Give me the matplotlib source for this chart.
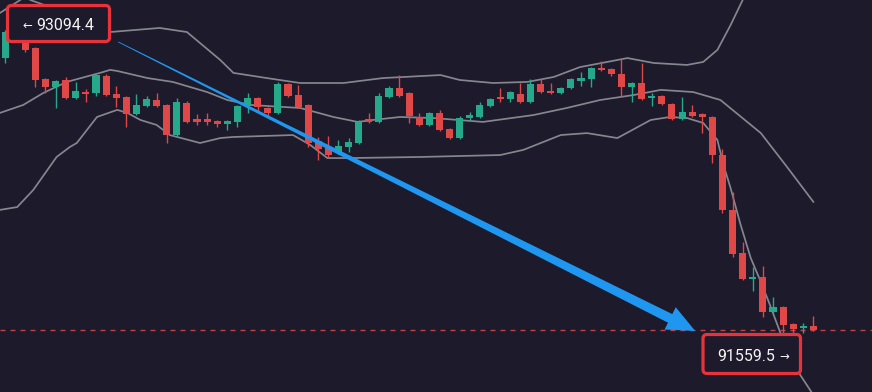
import numpy as np
import matplotlib.pyplot as plt
from matplotlib.patches import FancyBboxPatch, Polygon
from matplotlib.transforms import IdentityTransform

# --- candle data (price units) ---
opens = [92941, 93058, 93062, 92988, 92844, 92806, 92839, 92755, 92783, 92779,
         92858, 92774, 92760, 92681, 92718, 92746, 92723, 92583, 92732, 92658,
         92658, 92648, 92634, 92644, 92718, 92755, 92709, 92686, 92820, 92769,
         92723, 92555, 92527, 92499, 92527, 92546, 92658, 92644, 92760, 92802,
         92779, 92667, 92630, 92686, 92611, 92569, 92662, 92667, 92718, 92760,
         92751, 92774, 92737, 92820, 92788, 92779, 92802, 92834, 92844, 92895,
         92890, 92867, 92806, 92825, 92755, 92765, 92727, 92658, 92690, 92681,
         92667, 92490, 92235, 92035, 91914, 91923, 91760, 91783, 91704, 91686,
         91695]
highs = [93072, 93094.4, 93067, 92992, 92848, 92839, 92853, 92830, 92797, 92867,
         92867, 92811, 92765, 92774, 92765, 92779, 92727, 92755, 92741, 92681,
         92686, 92653, 92653, 92723, 92779, 92760, 92713, 92830, 92825, 92816,
         92727, 92574, 92579, 92560, 92569, 92653, 92686, 92779, 92811, 92862,
         92783, 92686, 92690, 92700, 92616, 92672, 92690, 92737, 92755, 92802,
         92788, 92825, 92844, 92844, 92825, 92806, 92848, 92876, 92899, 92927,
         92895, 92937, 92830, 92918, 92779, 92769, 92732, 92760, 92723, 92686,
         92672, 92518, 92318, 92086, 91969, 91974, 91830, 91788, 91709, 91709,
         91742]
lows = [92918, 93034, 92969, 92806, 92779, 92709, 92751, 92751, 92737, 92765,
        92765, 92713, 92620, 92676, 92713, 92713, 92546, 92579, 92639, 92630,
        92630, 92620, 92606, 92620, 92686, 92695, 92667, 92681, 92760, 92709,
        92527, 92467, 92481, 92495, 92504, 92541, 92639, 92639, 92755, 92760,
        92639, 92625, 92625, 92602, 92565, 92565, 92653, 92662, 92713, 92737,
        92737, 92732, 92732, 92779, 92774, 92774, 92797, 92811, 92806, 92881,
        92858, 92765, 92737, 92746, 92718, 92723, 92653, 92653, 92667, 92592,
        92453, 92221, 92016, 91909, 91858, 91737, 91756, 91584, 91559.5, 91662,
        91672]
closes = [93062, 93062, 92979, 92839, 92806, 92834, 92755, 92788, 92774, 92862,
          92769, 92755, 92681, 92723, 92751, 92718, 92583, 92737, 92644, 92644,
          92644, 92634, 92648, 92718, 92755, 92713, 92686, 92820, 92765, 92713,
          92546, 92518, 92490, 92532, 92551, 92644, 92644, 92765, 92802, 92765,
          92672, 92630, 92686, 92606, 92569, 92662, 92676, 92723, 92751, 92751,
          92783, 92737, 92820, 92783, 92779, 92802, 92844, 92848, 92895, 92886,
          92867, 92806, 92825, 92751, 92765, 92727, 92658, 92690, 92672, 92667,
          92490, 92235, 92030, 91914, 91923, 91760, 91783, 91700, 91681, 91695,
          91676]

# Bollinger bands (x = candle index)
upper_x = [-0.5, 1.5, 2.0, 2.5, 6.1, 10.4, 15.3, 18.0, 21.3, 22.6, 25.9, 29.2, 33.5, 37.4,
           43.1, 45.0, 48.3, 51.7, 54.3, 56.9, 59.6, 61.6, 64.2, 67.5, 69.1, 70.5, 71.8,
           73.0, 74.8, 80.0]
upper_y = [93151, 93211, 93230, 93211, 93151, 93062, 93081, 93062, 92932, 92872, 92848,
           92825, 92825, 92848, 92862, 92839, 92825, 92830, 92853, 92899, 92923, 92941,
           92918, 92909, 92923, 92979, 93094, 93211, 93397, 93769]
mid_x = [-0.5, 1.8, 3.8, 6.1, 9.4, 10.4, 11.1, 14.1, 16.6, 20.0, 22.0, 24.3, 27.7, 29.2,
         32.5, 34.9, 36.4, 39.1, 42.4, 47.3, 52.3, 55.6, 58.9, 62.2, 64.9, 68.1, 70.8,
         74.8, 77.4, 80.0]
mid_y = [92686, 92723, 92779, 92830, 92872, 92886, 92881, 92848, 92830, 92783, 92746,
         92723, 92713, 92709, 92667, 92644, 92653, 92667, 92662, 92644, 92676, 92709,
         92746, 92769, 92793, 92783, 92746, 92592, 92434, 92272]
lower_x = [-0.5, 1.2, 2.8, 5.1, 6.4, 7.1, 9.1, 11.1, 12.1, 13.4, 15.0, 16.3, 19.3, 21.3,
           22.6, 28.5, 30.2, 31.9, 34.2, 41.1, 49.0, 51.3, 55.0, 57.6, 60.6, 63.9, 65.8,
           67.5, 69.1, 70.5, 71.1, 71.8, 72.8, 73.8, 74.8, 75.7, 76.7, 77.7, 78.7, 80.0]
lower_y = [92235, 92248, 92328, 92481, 92527, 92546, 92667, 92700, 92686, 92653, 92630,
           92583, 92546, 92569, 92574, 92583, 92537, 92476, 92476, 92481, 92490, 92514,
           92583, 92592, 92569, 92653, 92667, 92662, 92639, 92560, 92444, 92337, 92165,
           92011, 91900, 91793, 91667, 91560, 91467, 91374]

top_label = "93094.4"
bottom_label = "91559.5"
arrow_from = (11.2, 93016)
arrow_to = (68.3, 91672)

BG = '#1c1a2b'
UP = '#26a98b'
DOWN = '#e04747'
W, H = 872, 392

fig = plt.figure(figsize=(W / 100, H / 100), dpi=100)
fig.patch.set_facecolor(BG)
ax = fig.add_axes([0, 0, 1, 1])
ax.set_facecolor(BG)
ax.set_xlim(-0.5, 85.8)
ax.set_ylim(91388, 93211)
ax.axis('off')

# bands
for bx, by in [(upper_x, upper_y), (mid_x, mid_y), (lower_x, lower_y)]:
    ax.plot(bx, by, color='#86868f', lw=1.25, zorder=1, solid_joinstyle='round')

# last price line
ax.axhline(closes[-1], color=DOWN, lw=1, ls=(0, (3.6, 3.6)), alpha=0.85, zorder=1)

# candles
o = np.array(opens); c = np.array(closes)
idx = np.arange(len(o))
cols = [UP if cc >= oo else DOWN for oo, cc in zip(o, c)]
ax.vlines(idx, lows, highs, colors=cols, lw=1.0, zorder=2)
bottom = np.minimum(o, c)
height = np.maximum(np.abs(c - o), 9)
ax.bar(idx, height, bottom=bottom, width=0.7, color=cols, zorder=3)

# tapered blue arrow
p0 = ax.transData.transform(arrow_from)
p1 = ax.transData.transform(arrow_to)
d = p1 - p0
u = d / np.hypot(*d)
n = np.array([-u[1], u[0]])
head_len, head_w, w0, w1 = 28, 12.5, 0.4, 4.8
b = p1 - u * head_len
pts = [p0 + n * w0, b + n * w1, b + n * head_w, p1, b - n * head_w, b - n * w1, p0 - n * w0]
ax.add_patch(Polygon(ax.transData.inverted().transform(pts), closed=True,
                     facecolor='#1f97f0', edgecolor='none', zorder=5))

# price label boxes (pixel coords, y from top)
def box(x0, y0, x1, y1):
    fig.patches.append(FancyBboxPatch((x0, H - y1), x1 - x0, y1 - y0,
                                      boxstyle='round,pad=0,rounding_size=4',
                                      facecolor=BG, edgecolor='#e8323c', lw=2.3,
                                      transform=IdentityTransform(), zorder=6))

box(7.5, 5.5, 109.5, 41.5)
box(703, 334.5, 800.5, 373.5)

fam = ['Roboto', 'DejaVu Sans']
fig.text(27 / W, 1 - 29 / H, '←', color='#f0f0f0', fontsize=8.5, family=fam,
         ha='center', va='baseline', zorder=7)
fig.text(36 / W, 1 - 30 / H, top_label, color='#f4f4f4', fontsize=11.5, family=fam,
         ha='left', va='baseline', zorder=7)
fig.text(717 / W, 1 - 361 / H, bottom_label, color='#f4f4f4', fontsize=11.5, family=fam,
         ha='left', va='baseline', zorder=7)
fig.text(784 / W, 1 - 360 / H, '→', color='#f0f0f0', fontsize=8.5, family=fam,
         ha='center', va='baseline', zorder=7)

fig.savefig('out.png', dpi=100, facecolor=BG)
